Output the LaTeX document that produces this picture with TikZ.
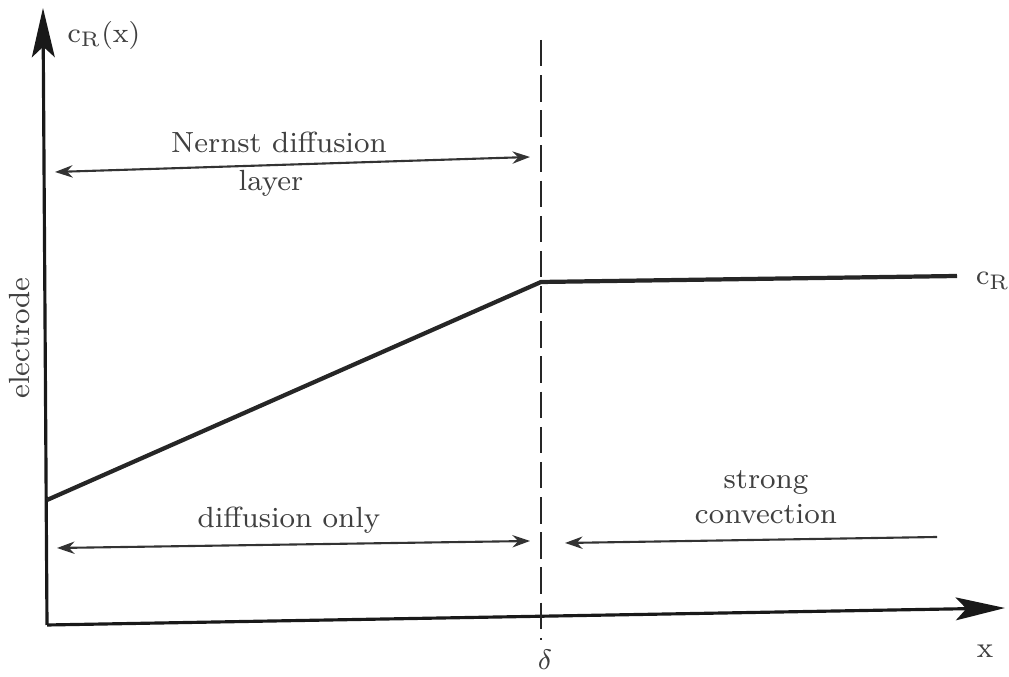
\documentclass[tikz,border=0pt]{standalone}
\usetikzlibrary{arrows.meta}
\begin{document}
\begin{tikzpicture}[x=0.01cm, y=-0.01cm,
    lbl/.style={text=black!75, font=\fontsize{8.3}{10}\selectfont, inner sep=1pt},
    axis/.style={black!90, line width=0.9pt, -{Stealth[length=14pt, width=6.5pt, inset=3pt]}},
    span/.style={black!80, line width=0.6pt,
                 {Stealth[length=5pt, width=3.5pt]}-{Stealth[length=5pt, width=3.5pt]}},
    push/.style={black!80, line width=0.6pt, -{Stealth[length=5pt, width=3.5pt]}},
    profile/.style={black!85, line width=1.2pt},
    bound/.style={black!85, line width=0.6pt, dash pattern=on 7.5pt off 2.5pt}]
  \useasboundingbox (0,0) rectangle (1009,677);
  % axes
  \coordinate (O) at (47,625);
  \coordinate (ytip) at (43,8);
  \coordinate (xtip) at (1005,608);
  \draw[axis] (O) -- (ytip);
  \draw[axis] (O) -- (xtip);
  \node[lbl] (cRx) at (104,35) {$\mathrm{c_R(x)}$};
  \node[lbl] (xlab) at (985,651) {x};
  \node[lbl, rotate=90] (elec) at (20,338) {electrode};
  % edge of the diffusion layer
  \coordinate (dtop) at (541,40);
  \coordinate (dbot) at (541,640);
  \draw[bound] (dtop) -- (dbot);
  \node[lbl] (delta) at (545,660) {$\delta$};
  % concentration profile
  \coordinate (c0) at (47,500);
  \coordinate (knee) at (541,282);
  \coordinate (cend) at (957,276);
  \draw[profile] (c0) -- (knee) -- (cend);
  \node[lbl] (cR) at (993,281) {$\mathrm{c_R}$};
  % regions
  \coordinate (nl) at (55,172);
  \coordinate (nr) at (530,157);
  \draw[span] (nl) -- (nr);
  \node[lbl] (nernst) at (279,142) {Nernst diffusion};
  \node[lbl] (layer) at (271,183) {layer};
  \coordinate (dl) at (57,548);
  \coordinate (dr) at (530,541);
  \draw[span] (dl) -- (dr);
  \node[lbl] (diff) at (289,520) {diffusion only};
  \coordinate (sr) at (937,537);
  \coordinate (sl) at (565,543);
  \draw[push] (sr) -- (sl);
  \node[lbl] (strong) at (766,483) {strong};
  \node[lbl] (conv) at (766,514) {convection};
\end{tikzpicture}
\end{document}
